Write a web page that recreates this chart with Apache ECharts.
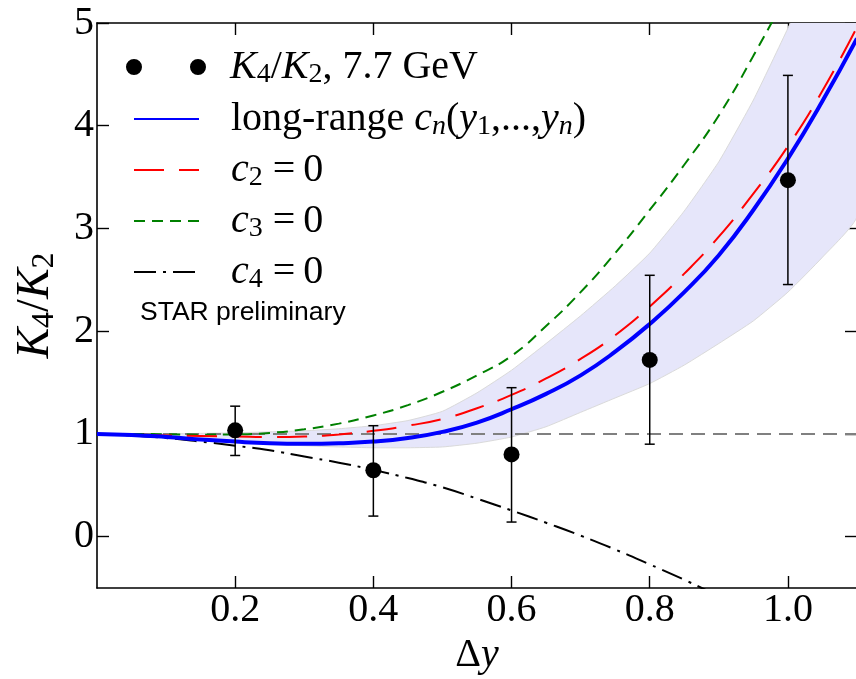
<!DOCTYPE html>
<html>
<head>
<meta charset="utf-8">
<script src="https://cdn.jsdelivr.net/npm/echarts@6.0.0/dist/echarts.min.js"></script>
<style>
  html, body { margin: 0; padding: 0; background: #ffffff; }
  #chart { width: 856px; height: 679px; }
</style>
</head>
<body>
<div id="chart"></div>
<script>
// Rapidity window on which the model curves are tabulated
const dy = [0, 0.05, 0.1, 0.15, 0.2, 0.25, 0.3, 0.35, 0.4, 0.45, 0.5, 0.55,
            0.6, 0.65, 0.7, 0.75, 0.8, 0.85, 0.9, 0.95, 1.0, 1.05, 1.1];

// K4/K2 from long-range correlations c_n(y1,...,yn)
const longRange = [1.00, 0.99, 0.97, 0.945, 0.925, 0.91, 0.905, 0.91, 0.925, 0.96, 1.02, 1.11,
                   1.24, 1.39, 1.57, 1.80, 2.07, 2.38, 2.74, 3.18, 3.68, 4.24, 4.85];
// same with one correlation switched off
const c2Zero = [1.00, 0.995, 0.985, 0.98, 0.975, 0.97, 0.975, 0.995, 1.03, 1.08, 1.145, 1.25,
                1.38, 1.54, 1.73, 1.96, 2.24, 2.56, 2.92, 3.34, 3.80, 4.34, 4.96];
const c3Zero = [1.00, 1.00, 0.997, 0.993, 0.995, 1.01, 1.045, 1.10, 1.18, 1.28, 1.41, 1.57,
                1.76, 2.05, 2.38, 2.76, 3.18, 3.62, 4.10, 4.68, 5.30];
const c4Zero = [1.00, 0.985, 0.96, 0.925, 0.885, 0.84, 0.78, 0.72, 0.65, 0.57, 0.48, 0.37,
                0.255, 0.135, 0.01, -0.125, -0.27, -0.42, -0.58];

// uncertainty band of the long-range result
const bandLow  = [1.00, 0.98, 0.96, 0.94, 0.92, 0.90, 0.885, 0.873, 0.865, 0.865, 0.873, 0.91,
                  0.97, 1.07, 1.21, 1.35, 1.49, 1.67, 1.88, 2.10, 2.38, 2.72, 3.12];
const bandHigh = [1.00, 1.00, 1.00, 1.005, 1.01, 1.02, 1.03, 1.05, 1.08, 1.13, 1.22, 1.40,
                  1.62, 1.88, 2.15, 2.44, 2.76, 3.17, 3.65, 4.25, 4.95, 5.70, 6.50];

// STAR K4/K2 at 7.7 GeV with error bars
const starDy   = [0.2, 0.4, 0.6, 0.8, 1.0];
const starK4K2 = [1.035, 0.646, 0.80, 1.72, 3.47];
const errLow   = [0.79, 0.20, 0.142, 0.90, 2.454];
const errHigh  = [1.27, 1.08, 1.45, 2.544, 4.49];

// Poisson reference K4/K2 = 1
const refDy = [0, 1.1];
const refK  = [1, 1];

// axis ticks
const xTicks = [0.2, 0.4, 0.6, 0.8, 1.0];
const yTicks = [0, 1, 2, 3, 4, 5];

const SERIF = '"Liberation Serif", "DejaVu Serif", serif';
const pairs = (xs, ys) => ys.map((v, i) => [xs[i], v]);

function richSet(big, small, lh) {
  return {
    n:    { fontFamily: SERIF, fontSize: big, lineHeight: lh, color: '#000' },
    i:    { fontFamily: SERIF, fontSize: big, lineHeight: lh, color: '#000', fontStyle: 'italic' },
    sub:  { fontFamily: SERIF, fontSize: small, lineHeight: Math.round(lh * 0.45), color: '#000', verticalAlign: 'bottom' },
    subi: { fontFamily: SERIF, fontSize: small, lineHeight: Math.round(lh * 0.45), color: '#000', verticalAlign: 'bottom', fontStyle: 'italic' }
  };
}
const rich = richSet(40, 28, 44);
const richName = richSet(46, 32, 50);

const legendText = {
  'K4/K2, 7.7 GeV': '{i|K}{sub|4}{n|/}{i|K}{sub|2}{n|, 7.7 GeV}',
  'long-range': '{n|long-range }{i|c}{subi|n}{n|(}{i|y}{sub|1}{n|,...,}{i|y}{subi|n}{n|)}',
  'c2 = 0': '{i|c}{sub|2}{n| =\u20090}',
  'c3 = 0': '{i|c}{sub|3}{n| =\u20090}',
  'c4 = 0': '{i|c}{sub|4}{n| =\u20090}'
};

function curve(name, ys, color, width, dash, z) {
  return {
    name: name,
    type: 'line',
    data: pairs(dy, ys),
    smooth: true,
    symbol: 'none',
    color: color,
    lineStyle: { color: color, width: width, type: dash },
    z: z,
    silent: true
  };
}

const chart = echarts.init(document.getElementById('chart'), null, { renderer: 'canvas' });

const axisLine = { show: true, onZero: false, lineStyle: { color: '#000', width: 1.6 } };
const tickStyle = { color: '#000', width: 1.4 };

chart.setOption({
  animation: false,
  backgroundColor: '#ffffff',
  grid: { left: 97, right: -1, top: 23, bottom: 91, outerBoundsMode: 'none', containLabel: false },
  xAxis: [
    {
      type: 'value', min: 0, max: 1.1, position: 'bottom',
      name: '{n|Δ}{i|y}', nameLocation: 'middle', nameGap: 45,
      nameTextStyle: { rich: rich },
      axisLine: axisLine,
      splitLine: { show: false },
      axisTick: { show: true, inside: true, length: 12, lineStyle: tickStyle, customValues: xTicks },
      axisLabel: {
        show: true, margin: 2, customValues: xTicks,
        formatter: v => v.toFixed(1),
        fontFamily: SERIF, fontSize: 40, color: '#000'
      }
    },
    {
      type: 'value', min: 0, max: 1.1, position: 'top',
      axisLine: axisLine,
      splitLine: { show: false },
      axisTick: { show: true, inside: true, length: 12, lineStyle: tickStyle, customValues: xTicks },
      axisLabel: { show: false }
    }
  ],
  yAxis: [
    {
      type: 'value', min: -0.5, max: 5, position: 'left',
      name: '{i|K}{sub|4}{n|/}{i|K}{sub|2}', nameLocation: 'middle', nameGap: 36, nameRotate: 90,
      nameTextStyle: { rich: richName },
      axisLine: axisLine,
      splitLine: { show: false },
      axisTick: { show: true, inside: true, length: 12, lineStyle: tickStyle, customValues: yTicks },
      axisLabel: {
        show: true, margin: 3, customValues: yTicks,
        formatter: v => String(v),
        fontFamily: SERIF, fontSize: 40, color: '#000'
      }
    },
    {
      type: 'value', min: -0.5, max: 5, position: 'right',
      axisLine: axisLine,
      splitLine: { show: false },
      axisTick: { show: true, inside: true, length: 12, lineStyle: tickStyle, customValues: yTicks },
      axisLabel: { show: false }
    }
  ],
  legend: [
    {
      data: ['K4/K2, 7.7 GeV'],
      orient: 'vertical', left: 126, top: 47, padding: 0,
      itemWidth: 80, itemHeight: 16,
      icon: 'path://M0,8a8,8 0 1,1 16,0a8,8 0 1,1 -16,0zM64,8a8,8 0 1,1 16,0a8,8 0 1,1 -16,0z',
      itemStyle: { color: '#000', opacity: 1 },
      selectedMode: false,
      formatter: name => legendText[name],
      textStyle: { padding: [0, 0, 0, 19], rich: rich }
    },
    {
      data: ['long-range', 'c2 = 0', 'c3 = 0', 'c4 = 0'],
      orient: 'vertical', left: 133, top: 99, padding: 0,
      itemWidth: 65, itemHeight: 16, itemGap: 9,
      itemStyle: { opacity: 0 },
      selectedMode: false,
      formatter: name => legendText[name],
      textStyle: { padding: [0, 0, 0, 27], rich: rich }
    }
  ],
  graphic: [
    {
      type: 'text', left: 140, top: 299, silent: true,
      style: {
        text: 'STAR preliminary',
        font: '26.5px "Liberation Sans", Arial, sans-serif',
        fill: '#000'
      }
    }
  ],
  series: [
    {
      name: 'band', type: 'custom', data: [0], clip: true, silent: true, z: 1,
      renderItem: (params, api) => {
        const upper = dy.map((x, i) => api.coord([x, bandHigh[i]]));
        const lower = dy.map((x, i) => api.coord([x, bandLow[i]])).reverse();
        return {
          type: 'polygon',
          shape: { points: upper.concat(lower), smooth: 0.15 },
          style: { fill: '#e6e6fa', stroke: '#dadada', lineWidth: 1 }
        };
      }
    },
    {
      name: 'reference', type: 'line', symbol: 'none',
      data: pairs(refDy, refK),
      lineStyle: { color: '#808080', width: 2, type: [14, 8] },
      z: 2, silent: true
    },
    curve('c3 = 0', c3Zero, '#008000', 2, [11, 7], 3),
    curve('c2 = 0', c2Zero, '#ff0000', 2, [30, 15], 3),
    curve('c4 = 0', c4Zero, '#000000', 2, [22, 7, 3, 7], 3),
    curve('long-range', longRange, '#0000ff', 4, 'solid', 4),
    {
      name: 'errors', type: 'custom',
      data: starDy.map((x, i) => [x, errLow[i], errHigh[i]]),
      encode: { x: 0, y: [1, 2] },
      z: 5, silent: true,
      renderItem: (params, api) => {
        const x = api.value(0);
        const lo = api.coord([x, api.value(1)]);
        const hi = api.coord([x, api.value(2)]);
        const cap = 5;
        const st = { stroke: '#000', lineWidth: 1.5 };
        return {
          type: 'group',
          children: [
            { type: 'line', shape: { x1: lo[0], y1: lo[1], x2: hi[0], y2: hi[1] }, style: st },
            { type: 'line', shape: { x1: lo[0] - cap, y1: lo[1], x2: lo[0] + cap, y2: lo[1] }, style: st },
            { type: 'line', shape: { x1: hi[0] - cap, y1: hi[1], x2: hi[0] + cap, y2: hi[1] }, style: st }
          ]
        };
      }
    },
    {
      name: 'K4/K2, 7.7 GeV', type: 'scatter',
      data: pairs(starDy, starK4K2),
      symbol: 'circle', symbolSize: 16,
      color: '#000',
      itemStyle: { color: '#000', opacity: 1 },
      z: 6, silent: true
    }
  ]
});
</script>
</body>
</html>
